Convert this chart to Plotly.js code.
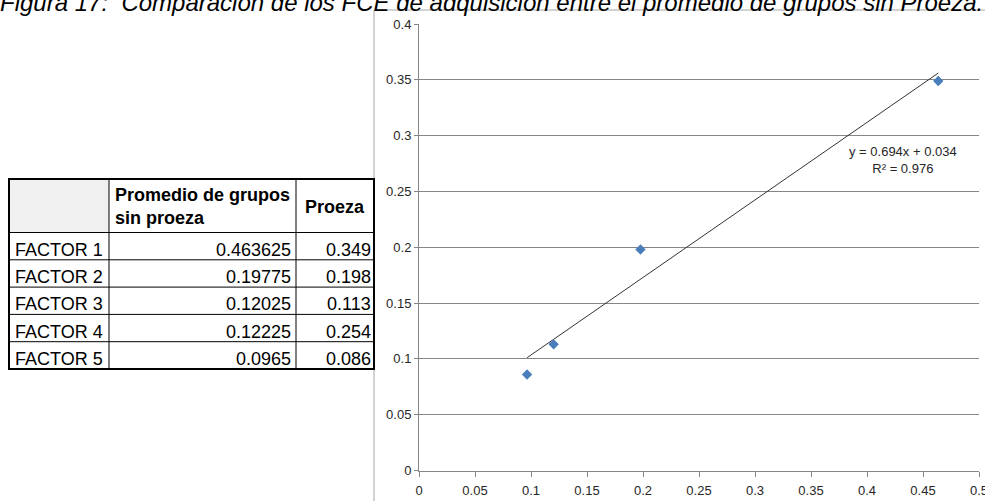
<!DOCTYPE html>
<html>
<head>
<meta charset="utf-8">
<script src="https://cdn.plot.ly/plotly-3.0.1.min.js"></script>
<style>
html,body{margin:0;padding:0;background:#fff;}
#chart{width:985px;height:501px;}
</style>
</head>
<body>
<div id="chart"></div>
<script>
// ---- data ----
const titleText = 'Figura 17:  Comparación de los FCE de adquisición entre el promedio de grupos sin Proeza.';
const factors = ['FACTOR 1', 'FACTOR 2', 'FACTOR 3', 'FACTOR 4', 'FACTOR 5'];
const promedioSinProeza = [0.463625, 0.19775, 0.12025, 0.12225, 0.0965];
const proeza = [0.349, 0.198, 0.113, 0.254, 0.086];
const plottedFactors = ['FACTOR 1', 'FACTOR 2', 'FACTOR 3', 'FACTOR 5'];
const headerLabels = ['', 'Promedio de grupos<br>sin proeza', 'Proeza'];
const trendLabels = ['y = 0.694x + 0.034', 'R² = 0.976'];
const xTickVals = [0, 0.05, 0.1, 0.15, 0.2, 0.25, 0.3, 0.35, 0.4, 0.45, 0.5];
const yTickVals = [0, 0.05, 0.1, 0.15, 0.2, 0.25, 0.3, 0.35, 0.4];

// ---- derived ----
const W = 985, H = 501;
const idx = plottedFactors.map(f => factors.indexOf(f));
const px = idx.map(i => promedioSinProeza[i]);
const py = idx.map(i => proeza[i]);
const n = px.length;
const mx = px.reduce((a, b) => a + b, 0) / n;
const my = py.reduce((a, b) => a + b, 0) / n;
let sxy = 0, sxx = 0;
for (let i = 0; i < n; i++) {
  sxy += (px[i] - mx) * (py[i] - my);
  sxx += (px[i] - mx) ** 2;
}
const slope = sxy / sxx;
const intercept = my - slope * mx;
const trendX = [Math.min(...px), Math.max(...px)];
const trendY = trendX.map(x => slope * x + intercept);

const FONT = 'Liberation Sans, Arial, sans-serif';
const AX = '#868686';
const TXT = '#262626';

// pixel -> paper helpers (margins are 0)
const pxX = v => v / W;
const pxY = v => (H - v) / H;

// table geometry (layout, not data)
const colEdges = [9, 109, 296, 374];
const headerTop = 179, headerBottom = 232.5, tableBottom = 369;
const rowH = (tableBottom - headerBottom) / factors.length;

const shapes = [];
const annotations = [];

// chart-area frame
shapes.push({type: 'rect', xref: 'paper', yref: 'paper', x0: pxX(374), x1: 1.05, y0: -0.05, y1: pxY(10),
  line: {color: '#a6a6a6', width: 1}, layer: 'below'});

// header grey cell
shapes.push({type: 'rect', xref: 'paper', yref: 'paper', x0: pxX(colEdges[0]), x1: pxX(colEdges[1]),
  y0: pxY(headerBottom), y1: pxY(headerTop), fillcolor: '#f0f0f0', line: {width: 0}, layer: 'below'});
// horizontal grid lines of the table
for (let r = 0; r < factors.length; r++) {
  const yy = headerBottom + r * rowH;
  shapes.push({type: 'line', xref: 'paper', yref: 'paper', x0: pxX(colEdges[0]), x1: pxX(colEdges[3]),
    y0: pxY(yy), y1: pxY(yy), line: {color: '#000', width: 1}});
}
// vertical lines
for (let c = 1; c < colEdges.length - 1; c++) {
  shapes.push({type: 'line', xref: 'paper', yref: 'paper', x0: pxX(colEdges[c]), x1: pxX(colEdges[c]),
    y0: pxY(tableBottom), y1: pxY(headerTop), line: {color: '#000', width: 1}});
}
// outer border
shapes.push({type: 'rect', xref: 'paper', yref: 'paper', x0: pxX(colEdges[0]), x1: pxX(colEdges[3]),
  y0: pxY(tableBottom), y1: pxY(headerTop), line: {color: '#000', width: 2}});

const cellFont = {family: FONT, size: 18, color: '#000'};
// header texts
annotations.push({xref: 'paper', yref: 'paper', x: pxX(colEdges[1] + 4), y: pxY(206.5),
  xanchor: 'left', yanchor: 'middle', align: 'left', showarrow: false,
  text: headerLabels[1].split('<br>').map(s => '<b>' + s + '</b>').join('<br>'), font: cellFont});
annotations.push({xref: 'paper', yref: 'paper', x: pxX((colEdges[2] + colEdges[3]) / 2), y: pxY(207.5),
  xanchor: 'center', yanchor: 'middle', showarrow: false,
  text: '<b>' + headerLabels[2] + '</b>', font: cellFont});
// body cells
factors.forEach((f, r) => {
  const yc = headerBottom + (r + 1) * rowH - 10;
  annotations.push({xref: 'paper', yref: 'paper', x: pxX(colEdges[0] + 4), y: pxY(yc),
    xanchor: 'left', yanchor: 'middle', showarrow: false, text: f, font: cellFont});
  annotations.push({xref: 'paper', yref: 'paper', x: pxX(colEdges[2] - 3), y: pxY(yc),
    xanchor: 'right', yanchor: 'middle', showarrow: false, text: String(promedioSinProeza[r]), font: cellFont});
  annotations.push({xref: 'paper', yref: 'paper', x: pxX(colEdges[3] - 1.5), y: pxY(yc),
    xanchor: 'right', yanchor: 'middle', showarrow: false, text: String(proeza[r]), font: cellFont});
});

// trendline equation
annotations.push({
  xref: 'x', yref: 'y', x: 0.432, y: 0.2785,
  text: trendLabels.join('<br>'),
  showarrow: false, align: 'center',
  font: {family: FONT, size: 13, color: TXT}
});

const traces = [
  {
    type: 'scatter', mode: 'lines', x: trendX, y: trendY,
    line: {color: '#333333', width: 1}, hoverinfo: 'skip', showlegend: false
  },
  {
    type: 'scatter', mode: 'markers', x: px, y: py,
    marker: {symbol: 'diamond', size: 8, color: '#4a7ebb'},
    showlegend: false
  }
];

const layout = {
  width: W, height: H,
  margin: {l: 0, r: 0, t: 0, b: 0},
  paper_bgcolor: '#fff', plot_bgcolor: '#fff',
  showlegend: false,
  title: {
    text: titleText,
    font: {family: FONT, size: 24, color: '#000', style: 'italic'},
    xref: 'container', x: 0, xanchor: 'left',
    yref: 'container', y: 1 - 3 / H, yanchor: 'middle'
  },
  xaxis: {
    domain: [419 / W, 979 / W], range: [0, 0.5],
    tickvals: xTickVals, ticktext: xTickVals.map(String),
    ticks: 'outside', ticklen: 5, tickcolor: AX, tickwidth: 1,
    ticklabelstandoff: 3, ticklabeloverflow: 'allow',
    showline: true, linecolor: AX, linewidth: 1,
    showgrid: false, zeroline: false,
    tickfont: {family: FONT, size: 13, color: TXT}
  },
  yaxis: {
    domain: [(H - 470.5) / H, (H - 24) / H], range: [0, 0.4],
    tickvals: yTickVals, ticktext: yTickVals.map(String),
    ticks: 'outside', ticklen: 4, tickcolor: AX, tickwidth: 1,
    showline: true, linecolor: AX, linewidth: 1,
    showgrid: true, gridcolor: AX, gridwidth: 1, zeroline: false,
    tickfont: {family: FONT, size: 13, color: TXT}
  },
  shapes: shapes,
  annotations: annotations
};

Plotly.newPlot('chart', traces, layout, {displayModeBar: false, staticPlot: true});
</script>
</body>
</html>
